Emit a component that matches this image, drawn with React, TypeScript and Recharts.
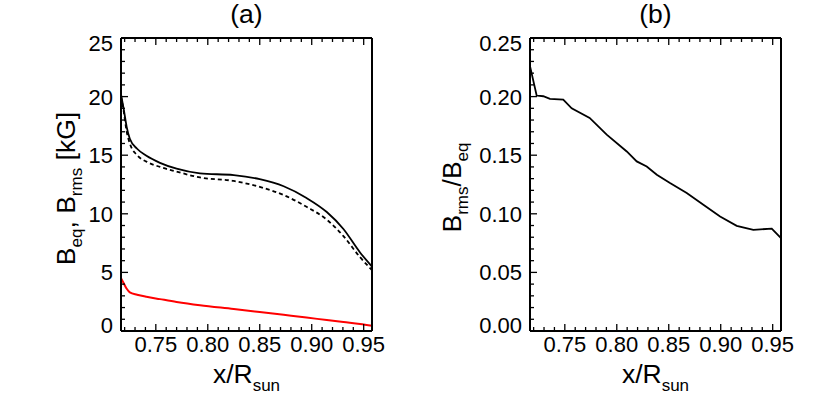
import React from 'react';
import { LineChart, Line, XAxis, YAxis, Label } from 'recharts';

// panel (a): field strengths vs radius
const X_A = [0.7165, 0.719, 0.722, 0.725, 0.732, 0.741, 0.754, 0.77, 0.7925, 0.825, 0.85, 0.873, 0.895, 0.9145, 0.9305, 0.9465, 0.958];
const B_EQ = [20.2, 19.0, 17.4, 16.4, 15.55, 14.95, 14.35, 13.85, 13.45, 13.3, 12.95, 12.35, 11.35, 10.15, 8.7, 6.7, 5.5];
const B_EQ_DOT = [20.0, 18.8, 17.0, 16.0, 15.0, 14.45, 14.0, 13.6, 13.1, 12.8, 12.3, 11.6, 10.6, 9.5, 8.1, 6.3, 5.2];
const B_RMS = [4.5, 4.1, 3.6, 3.3, 3.1, 2.92, 2.72, 2.48, 2.2, 1.88, 1.62, 1.38, 1.15, 0.93, 0.76, 0.6, 0.45];

// panel (b): ratio
const X_B = [0.7165, 0.7229, 0.7293, 0.7357, 0.7485, 0.7566, 0.7739, 0.7903, 0.8096, 0.8192, 0.8288, 0.8385, 0.8512, 0.8673, 0.8833, 0.8994, 0.9154, 0.9314, 0.9491, 0.958];
const RATIO = [0.226, 0.2009, 0.2003, 0.198, 0.1974, 0.19, 0.1818, 0.1675, 0.1532, 0.1447, 0.1404, 0.1333, 0.1262, 0.1177, 0.1077, 0.0977, 0.0897, 0.0863, 0.0874, 0.0792];

// ticks
const X_DOMAIN = [0.7165, 0.958];
const X_MAJOR = [0.75, 0.8, 0.85, 0.9, 0.95];
const X_MINOR = [0.72, 0.73, 0.74, 0.76, 0.77, 0.78, 0.79, 0.81, 0.82, 0.83, 0.84, 0.86, 0.87, 0.88, 0.89, 0.91, 0.92, 0.93, 0.94];
const YA_MAJOR = [0, 5, 10, 15, 20, 25];
const YA_MINOR = [1, 2, 3, 4, 6, 7, 8, 9, 11, 12, 13, 14, 16, 17, 18, 19, 21, 22, 23, 24];
const YB_MAJOR = [0, 0.05, 0.1, 0.15, 0.2, 0.25];
const YB_MINOR = [0.01, 0.02, 0.03, 0.04, 0.06, 0.07, 0.08, 0.09, 0.11, 0.12, 0.13, 0.14, 0.16, 0.17, 0.18, 0.19, 0.21, 0.22, 0.23, 0.24];

const dataA = X_A.map((x, i) => ({ x, eq: B_EQ[i], dot: B_EQ_DOT[i], rms: B_RMS[i] }));
const dataB = X_B.map((x, i) => ({ x, ratio: RATIO[i] }));

const FONT = '"Liberation Sans", Arial, Helvetica, sans-serif';
const TICK_FS = 22;
const TITLE_FS = 26.5;
const SUB_FS = 17;
const MAJ = 7;
const MIN = 4;

const tickLine = { stroke: '#000', strokeWidth: 1.3 };
const frame = { stroke: '#000', strokeWidth: 2 };

const BottomTick = (majors: number[], fmt: (v: number) => string) => (p: any) => {
  const major = majors.includes(p.payload.value);
  return (
    <g>
      <line x1={p.x} y1={p.y} x2={p.x} y2={p.y - (major ? MAJ : MIN)} {...tickLine} />
      {major && (
        <text x={p.x} y={p.y + 21} textAnchor="middle" fontSize={TICK_FS} fontFamily={FONT} fill="#000">
          {fmt(p.payload.value)}
        </text>
      )}
    </g>
  );
};

const TopTick = (majors: number[]) => (p: any) => {
  const major = majors.includes(p.payload.value);
  return <line x1={p.x} y1={p.y} x2={p.x} y2={p.y + (major ? MAJ : MIN)} {...tickLine} />;
};

const LeftTick = (majors: number[], fmt: (v: number) => string) => (p: any) => {
  const v = p.payload.value;
  const major = majors.includes(v);
  const top = majors[majors.length - 1];
  const shift = v === top ? 5.5 : v === majors[0] ? -5.5 : 0;
  return (
    <g>
      <line x1={p.x} y1={p.y} x2={p.x + (major ? MAJ : MIN)} y2={p.y} {...tickLine} />
      {major && (
        <text x={p.x - 8} y={p.y + shift} dy="0.36em" textAnchor="end" fontSize={TICK_FS} fontFamily={FONT} fill="#000">
          {fmt(v)}
        </text>
      )}
    </g>
  );
};

const RightTick = (majors: number[]) => (p: any) => {
  const major = majors.includes(p.payload.value);
  return <line x1={p.x} y1={p.y} x2={p.x - (major ? MAJ : MIN)} y2={p.y} {...tickLine} />;
};

const xTitle = (p: any) => {
  const vb = p.viewBox;
  return (
    <text x={vb.x + vb.width / 2} y={vb.y + 52} textAnchor="middle" fontSize={TITLE_FS} fontFamily={FONT} fill="#000">
      x/R<tspan dy={7.5} fontSize={SUB_FS}>sun</tspan>
    </text>
  );
};

const panelTitle = (t: string) => (p: any) => {
  const vb = p.viewBox;
  return (
    <text x={vb.x + vb.width / 2} y={vb.y + vb.height - 15} textAnchor="middle" fontSize={TITLE_FS} fontFamily={FONT} fill="#000">
      {t}
    </text>
  );
};

const yTitleA = (p: any) => {
  const vb = p.viewBox;
  const cx = vb.x + vb.width - 46;
  const cy = vb.y + vb.height / 2 + 4;
  return (
    <text x={cx} y={cy} transform={`rotate(-90 ${cx} ${cy})`} textAnchor="middle" fontSize={TITLE_FS} fontFamily={FONT} fill="#000">
      B<tspan dy={7} fontSize={SUB_FS}>eq</tspan>
      <tspan dy={-7}>, B</tspan>
      <tspan dy={7} fontSize={SUB_FS}>rms</tspan>
      <tspan dy={-7}> [kG]</tspan>
    </text>
  );
};

const yTitleB = (p: any) => {
  const vb = p.viewBox;
  const cx = vb.x + vb.width - 69;
  const cy = vb.y + vb.height / 2 + 3;
  return (
    <text x={cx} y={cy} transform={`rotate(-90 ${cx} ${cy})`} textAnchor="middle" fontSize={TITLE_FS} fontFamily={FONT} fill="#000">
      B<tspan dy={7} fontSize={SUB_FS}>rms</tspan>
      <tspan dy={-7}>/B</tspan>
      <tspan dy={7} fontSize={SUB_FS}>eq</tspan>
    </text>
  );
};

const fmt2 = (v: number) => v.toFixed(2);
const fmt0 = (v: number) => String(v);

const Frame = ({ yMajor, yMinor, yDomain, yFmt, title, yTitle }: any) => [
  <XAxis
    key="xb"
    xAxisId="b"
    dataKey="x"
    type="number"
    domain={X_DOMAIN}
    ticks={[...X_MINOR, ...X_MAJOR]}
    interval={0}
    height={1}
    tickSize={0}
    tickMargin={0}
    tickLine={false}
    axisLine={frame}
    tick={BottomTick(X_MAJOR, fmt2)}
  >
    <Label content={xTitle} />
  </XAxis>,
  <XAxis
    key="xt"
    xAxisId="t"
    orientation="top"
    dataKey="x"
    type="number"
    domain={X_DOMAIN}
    ticks={[...X_MINOR, ...X_MAJOR]}
    interval={0}
    height={1}
    tickSize={0}
    tickMargin={0}
    tickLine={false}
    axisLine={frame}
    tick={TopTick(X_MAJOR)}
  >
    <Label content={panelTitle(title)} />
  </XAxis>,
  <YAxis
    key="yl"
    yAxisId="l"
    type="number"
    domain={yDomain}
    ticks={[...yMinor, ...yMajor]}
    interval={0}
    width={60}
    tickSize={0}
    tickMargin={0}
    tickLine={false}
    axisLine={frame}
    tick={LeftTick(yMajor, yFmt)}
  >
    <Label content={yTitle} />
  </YAxis>,
  <YAxis
    key="yr"
    yAxisId="r"
    orientation="right"
    type="number"
    domain={yDomain}
    ticks={[...yMinor, ...yMajor]}
    interval={0}
    width={1}
    tickSize={0}
    tickMargin={0}
    tickLine={false}
    axisLine={frame}
    tick={RightTick(yMajor)}
  />,
];

export default function App() {
  return (
    <div style={{ position: 'absolute', left: 0, top: 0, width: 817, height: 409, background: '#fff' }}>
      <div style={{ position: 'absolute', left: 0, top: 0 }}>
        <LineChart width={400} height={409} data={dataA} margin={{ top: 37, right: 27, bottom: 77, left: 61 }}>
          {Frame({ yMajor: YA_MAJOR, yMinor: YA_MINOR, yDomain: [0, 25], yFmt: fmt0, title: '(a)', yTitle: yTitleA })}
          <Line xAxisId="b" yAxisId="l" type="monotone" dataKey="dot" stroke="#000" strokeWidth={1.8} strokeDasharray="4 3" dot={false} isAnimationActive={false} />
          <Line xAxisId="b" yAxisId="l" type="monotone" dataKey="eq" stroke="#000" strokeWidth={1.8} dot={false} isAnimationActive={false} />
          <Line xAxisId="b" yAxisId="l" type="monotone" dataKey="rms" stroke="#ff0000" strokeWidth={2} dot={false} isAnimationActive={false} />
        </LineChart>
      </div>
      <div style={{ position: 'absolute', left: 409, top: 0 }}>
        <LineChart width={408} height={409} data={dataB} margin={{ top: 37, right: 35, bottom: 77, left: 61 }}>
          {Frame({ yMajor: YB_MAJOR, yMinor: YB_MINOR, yDomain: [0, 0.25], yFmt: fmt2, title: '(b)', yTitle: yTitleB })}
          <Line xAxisId="b" yAxisId="l" type="linear" dataKey="ratio" stroke="#000" strokeWidth={1.8} dot={false} isAnimationActive={false} />
        </LineChart>
      </div>
    </div>
  );
}
